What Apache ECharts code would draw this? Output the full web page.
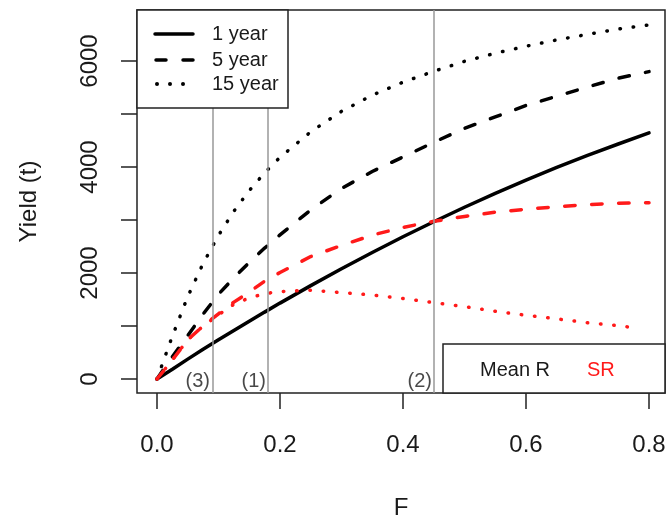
<!DOCTYPE html>
<html>
<head>
<meta charset="utf-8">
<script src="https://cdn.jsdelivr.net/npm/echarts@6/dist/echarts.min.js"></script>
<style>
  html, body { margin: 0; padding: 0; background: #fff; }
  #main { width: 668px; height: 518px; }
</style>
</head>
<body>
<div id="main"></div>
<script>
// fishing mortality F
var fValues = [0, 0.025, 0.05, 0.075, 0.1, 0.125, 0.15, 0.175, 0.2, 0.25, 0.3, 0.35, 0.4, 0.45, 0.5, 0.55, 0.6, 0.65, 0.7, 0.75, 0.8];
// yields (t), mean recruitment
var meanR1 = [0, 185, 375, 560, 739, 915, 1091, 1262, 1432, 1762, 2080, 2387, 2683, 2967, 3240, 3502, 3752, 3991, 4218, 4434, 4645];
var meanR5 = [0, 420, 820, 1225, 1600, 1910, 2200, 2470, 2720, 3190, 3595, 3915, 4190, 4465, 4730, 4945, 5160, 5335, 5510, 5675, 5800];
var meanR15 = [0, 810, 1555, 2180, 2710, 3165, 3555, 3890, 4183, 4665, 5050, 5355, 5600, 5805, 5993, 6147, 6278, 6397, 6502, 6602, 6680];
// yields (t), stock-recruitment
var sr5 = [0, 360, 740, 1000, 1230, 1450, 1640, 1845, 2010, 2310, 2520, 2715, 2860, 2975, 3067, 3148, 3204, 3251, 3291, 3318, 3327];
var sr15F = [0, 0.025, 0.05, 0.075, 0.1, 0.125, 0.15, 0.175, 0.2, 0.25, 0.3, 0.35, 0.4, 0.45, 0.5, 0.55, 0.6, 0.65, 0.7, 0.75, 0.78];
var sr15 = [0, 360, 740, 1000, 1210, 1410, 1530, 1610, 1650, 1675, 1630, 1585, 1520, 1440, 1366, 1278, 1203, 1135, 1062, 1005, 962];
// reference F lines
var refF = [0.091, 0.182, 0.452];
var refNames = ['(3)', '(1)', '(2)'];
var xTicks = [0, 0.2, 0.4, 0.6, 0.8];
var yTicks = [0, 1000, 2000, 3000, 4000, 5000, 6000];
var yLabels = [0, 2000, 4000, 6000];

var BLACK = '#000';
var RED = '#ff1a1a';
var TXT = '#1a1a1a';
var FONT = 'Liberation Sans, Arial, sans-serif';

function pairs(xs, ys) {
  return ys.map(function (y, i) { return [xs[i], y]; });
}

var chart = echarts.init(document.getElementById('main'), null, { renderer: 'canvas' });

var dashed = [10.5, 16.5];
var dotted = [0.5, 12.8];

var option = {
  animation: false,
  backgroundColor: '#fff',
  textStyle: { fontFamily: FONT },
  grid: {
    left: 137, top: 10, right: 3, bottom: 125,
    outerBoundsMode: 'none', containLabel: false,
    show: true, borderColor: '#222', borderWidth: 1.5, backgroundColor: 'transparent'
  },
  xAxis: {
    type: 'value',
    min: -0.0325, max: 0.826,
    name: 'F', nameLocation: 'middle', nameGap: 103,
    nameTextStyle: { fontSize: 24, color: TXT, fontFamily: FONT },
    axisLine: { show: false, onZero: false },
    splitLine: { show: false },
    axisTick: { show: true, customValues: xTicks, length: 16, lineStyle: { color: '#222', width: 1.5 } },
    axisLabel: {
      customValues: xTicks, margin: 40, fontSize: 24, color: TXT, fontFamily: FONT,
      formatter: function (v) { return v.toFixed(1); }
    }
  },
  yAxis: {
    type: 'value',
    min: -264, max: 6962,
    name: 'Yield (t)', nameLocation: 'middle', nameGap: 96,
    nameTextStyle: { fontSize: 24, color: TXT, fontFamily: FONT },
    axisLine: { show: false, onZero: false },
    splitLine: { show: false },
    axisTick: { show: true, customValues: yTicks, length: 16, lineStyle: { color: '#222', width: 1.5 } },
    axisLabel: {
      customValues: yLabels, margin: 35, rotate: 90, fontSize: 24, color: TXT, fontFamily: FONT,
      formatter: function (v) { return String(v); }
    }
  },
  series: [
    {
      name: '1 year', type: 'line', data: pairs(fValues, meanR1), showSymbol: false,
      lineStyle: { color: BLACK, width: 3.5, cap: 'round' },
      markLine: {
        silent: true, symbol: 'none', label: { show: false },
        lineStyle: { color: '#999', width: 1.5, type: 'solid' },
        data: refF.map(function (f) { return { xAxis: f }; })
      }
    },
    {
      name: '5 year', type: 'line', data: pairs(fValues, meanR5), showSymbol: false,
      lineStyle: { color: BLACK, width: 3.5, type: dashed, cap: 'round' }
    },
    {
      name: '15 year', type: 'line', data: pairs(fValues, meanR15), showSymbol: false,
      lineStyle: { color: BLACK, width: 3.5, type: dotted, cap: 'round' }
    },
    {
      name: 'SR 5 year', type: 'line', data: pairs(fValues, sr5), showSymbol: false,
      lineStyle: { color: RED, width: 3.5, type: dashed, cap: 'round' }
    },
    {
      name: 'SR 15 year', type: 'line', data: pairs(sr15F, sr15), showSymbol: false,
      lineStyle: { color: RED, width: 3.5, type: dotted, cap: 'round' }
    },
    {
      name: 'refs', type: 'scatter', symbolSize: 0, silent: true,
      data: refF.map(function (f, i) { return [f, -40, refNames[i]]; }),
      label: {
        show: true, position: 'left', distance: 3, fontSize: 20, color: TXT, fontFamily: FONT,
        formatter: function (p) { return p.value[2]; }
      }
    }
  ],
  graphic: [
    // line-type legend
    { type: 'rect', shape: { x: 137, y: 10, width: 151, height: 98 }, style: { fill: '#fff', stroke: '#222', lineWidth: 1.5 }, z: 10 },
    { type: 'line', shape: { x1: 155, y1: 34, x2: 193, y2: 34 }, style: { stroke: BLACK, lineWidth: 3.5, lineCap: 'round' }, z: 11 },
    { type: 'line', shape: { x1: 156, y1: 60, x2: 166, y2: 60 }, style: { stroke: BLACK, lineWidth: 3.5, lineCap: 'round' }, z: 11 },
    { type: 'line', shape: { x1: 183, y1: 60, x2: 193, y2: 60 }, style: { stroke: BLACK, lineWidth: 3.5, lineCap: 'round' }, z: 11 },
    { type: 'circle', shape: { cx: 157, cy: 84, r: 2 }, style: { fill: BLACK }, z: 11 },
    { type: 'circle', shape: { cx: 170, cy: 84, r: 2 }, style: { fill: BLACK }, z: 11 },
    { type: 'circle', shape: { cx: 183, cy: 84, r: 2 }, style: { fill: BLACK }, z: 11 },
    { type: 'text', x: 212, y: 34, style: { text: '1 year', fill: TXT, font: '20px ' + FONT, verticalAlign: 'middle' }, z: 11 },
    { type: 'text', x: 212, y: 60, style: { text: '5 year', fill: TXT, font: '20px ' + FONT, verticalAlign: 'middle' }, z: 11 },
    { type: 'text', x: 212, y: 84, style: { text: '15 year', fill: TXT, font: '20px ' + FONT, verticalAlign: 'middle' }, z: 11 },
    // colour legend
    { type: 'rect', shape: { x: 443, y: 344, width: 222, height: 49 }, style: { fill: '#fff', stroke: '#222', lineWidth: 1.5 }, z: 10 },
    { type: 'text', x: 480, y: 370, style: { text: 'Mean R', fill: TXT, font: '20px ' + FONT, verticalAlign: 'middle' }, z: 11 },
    { type: 'text', x: 587, y: 370, style: { text: 'SR', fill: RED, font: '20px ' + FONT, verticalAlign: 'middle' }, z: 11 }
  ]
};

chart.setOption(option);
</script>
</body>
</html>
